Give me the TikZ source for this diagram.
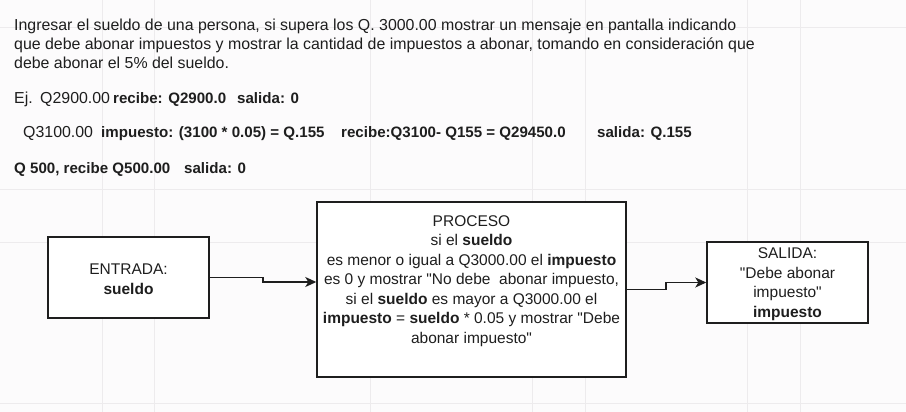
\documentclass[tikz,border=0pt]{standalone}
\usepackage{fontspec}
\setmainfont{Liberation Sans}[Ligatures=TeXOff]
\usetikzlibrary{arrows.meta}
\definecolor{bg}{HTML}{FCFBFC}
\definecolor{gridc}{HTML}{EDEBED}
\definecolor{ink}{HTML}{1E1E1E}
\tikzset{
  txt/.style={anchor=base west, inner sep=0pt, text=ink, font=\fontsize{15.9}{19}\selectfont},
  btxt/.style={anchor=base west, inner sep=0pt, text=ink, font=\fontsize{15.1}{19}\selectfont\bfseries},
  box/.style={draw=ink, line width=1.4pt, fill=white, inner sep=0pt},
  boxtxt/.style={align=center, inner sep=0pt, text=ink, font=\fontsize{15.5}{19.5}\selectfont},
  conn/.style={draw=ink, line width=1.4pt, -{Stealth[length=11pt,width=10pt,inset=3pt]}}
}
\begin{document}
\begin{tikzpicture}[x=1pt,y=-1pt]
\path[fill=bg] (0,0) rectangle (906,412);
\useasboundingbox (0,0) rectangle (906,412);
% faint grid
\foreach \gx in {102,154,370,532,585,747,800}{\draw[gridc, line width=0.8pt] (\gx,0) -- (\gx,412);}
\foreach \gy in {27,189,242,403}{\draw[gridc, line width=0.8pt] (0,\gy) -- (906,\gy);}
% header text
\node[txt] (t1) at (14,30.5) {Ingresar el sueldo de una persona, si supera los Q. 3000.00 mostrar un mensaje en pantalla indicando};
\node[txt] (t2) at (14,49.5) {que debe abonar impuestos y mostrar la cantidad de impuestos a abonar, tomando en consideración que};
\node[txt] (t3) at (14,68.5) {debe abonar el 5\% del sueldo.};
\node[txt] (e1) at (14,104) {Ej.};
\node[txt] (e2) at (40,104) {Q2900.00};
\node[btxt] (e3) at (113,104) {recibe: Q2900.0};
\node[btxt] (e4) at (237,104) {salida: 0};
\node[txt] (f1) at (23,138) {Q3100.00};
\node[btxt] (f2) at (101,138) {impuesto: (3100 * 0.05) = Q.155};
\node[btxt] (f3) at (341,138) {recibe:Q3100- Q155 = Q29450.0};
\node[btxt] (f4) at (597,138) {salida: Q.155};
\node[btxt] (g1) at (14,173) {Q 500, recibe Q500.00};
\node[btxt] (g2) at (184,173) {salida: 0};
% boxes
\node[box, minimum width=161pt, minimum height=81pt] (ent) at (128.5,277.5) {};
\node[boxtxt] (entt) at (128.5,279) {ENTRADA:\\\textbf{sueldo}};
\node[box, minimum width=309pt, minimum height=175pt] (proc) at (471.5,289.5) {};
\node[boxtxt] (proct) at (471.5,281) {PROCESO\\si el \textbf{sueldo}\\es menor o igual a Q3000.00 el \textbf{impuesto}\\es 0 y mostrar "No debe\ \ abonar impuesto,\\si el \textbf{sueldo} es mayor a Q3000.00 el\\\textbf{impuesto} = \textbf{sueldo} * 0.05 y mostrar "Debe\\abonar impuesto"};
\node[box, minimum width=161pt, minimum height=81pt] (sal) at (787.5,282.5) {};
\node[boxtxt] (salt) at (787.5,284) {SALIDA:\\"Debe abonar\\impuesto"\\\textbf{impuesto}};
% connectors
\coordinate (b1) at (263,277.5);
\coordinate (b2) at (666,289.5);
\draw[conn] (ent.east) -- (b1) |- ([yshift=7.5pt]proc.west);
\draw[conn] (proc.east) -- (b2) |- (sal.west);
\end{tikzpicture}
\end{document}
